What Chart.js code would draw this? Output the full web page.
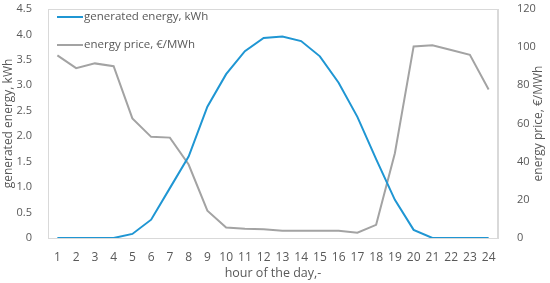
<!DOCTYPE html>
<html>
<head>
<meta charset="utf-8">
<script src="https://cdn.jsdelivr.net/npm/chart.js@4"></script>
<style>
  html, body { margin: 0; padding: 0; background: #fff; }
  #wrap { width: 550px; height: 283px; }
</style>
</head>
<body>
<div id="wrap"><canvas id="myChart"></canvas></div>
<script>
// hours on the x axis
const hours = ['1','2','3','4','5','6','7','8','9','10','11','12','13','14','15','16','17','18','19','20','21','22','23','24'];
// generated energy, kWh (left axis)
const energy = [0, 0, 0, 0, 0.08, 0.36, 0.98, 1.6, 2.58, 3.22, 3.67, 3.93, 3.96, 3.87, 3.57, 3.05, 2.38, 1.55, 0.75, 0.16, 0, 0, 0, 0];
// energy price, €/MWh (right axis)
const price = [95.7, 89, 91.5, 90, 62.7, 53, 52.6, 38.5, 14.3, 5.5, 4.9, 4.6, 3.8, 3.8, 3.8, 3.8, 2.8, 6.9, 44.4, 100.4, 101, 98.5, 96, 77.8];

const font = { family: 'Open Sans', size: 11 };
const titleFont = { family: 'Open Sans', size: 12 };
const textColor = '#595959';
const rightTitle = 'energy price, €/MWh';

// box round the plot area, legend inside it and right title read upwards (Excel style)
const plotBox = {
    id: 'plotBox',
    afterDatasetsDraw(chart) {
        const a = chart.chartArea;
        const c = chart.ctx;
        c.save();
        c.strokeStyle = '#d9d9d9';
        c.lineWidth = 1;
        c.strokeRect(a.left + 0.5, a.top + 0.5, a.right - a.left - 1, a.bottom - a.top);
        c.font = '11.5px "Open Sans"';
        c.textBaseline = 'middle';
        chart.data.datasets.forEach((ds, i) => {
            const y = a.top + 8 + i * 28;
            c.strokeStyle = ds.borderColor;
            c.lineWidth = 2;
            c.beginPath();
            c.moveTo(a.left + 9, y);
            c.lineTo(a.left + 35, y);
            c.stroke();
            c.fillStyle = textColor;
            c.fillText(ds.label, a.left + 36, y);
        });
        // right axis title
        c.translate(chart.width - 11, (a.top + a.bottom) / 2);
        c.rotate(-Math.PI / 2);
        c.font = '12px "Open Sans"';
        c.textAlign = 'center';
        c.fillText(rightTitle, 0, 0);
        c.restore();
    }
};

const ctx = document.getElementById('myChart');
new Chart(ctx, {
    type: 'line',
    data: {
        labels: hours,
        datasets: [{
            label: 'generated energy, kWh',
            data: energy,
            borderColor: '#1f96d3',
            borderWidth: 2,
            pointRadius: 0,
            tension: 0,
            yAxisID: 'y'
        },
        {
            label: 'energy price, €/MWh',
            data: price,
            borderColor: '#a3a3a3',
            borderWidth: 2,
            pointRadius: 0,
            tension: 0,
            yAxisID: 'y1'
        }]
    },
    options: {
        responsive: true,
        maintainAspectRatio: false,
        animation: false,
        layout: { padding: { top: 9, left: 0, right: 0, bottom: 0 } },
        scales: {
            x: {
                offset: true,
                grid: { display: false },
                border: { color: '#d9d9d9' },
                ticks: { color: textColor, font: { family: 'Open Sans', size: 12 }, padding: 4, maxRotation: 0, autoSkip: false },
                title: { display: true, text: 'hour of the day,-', color: textColor, font: { family: 'Open Sans', size: 12.5 }, padding: { top: 0, bottom: 2 } },
                afterFit(s) { s.height = 45; s.paddingLeft = 0; s.paddingRight = 0; }
            },
            y: {
                position: 'left',
                min: 0, max: 4.5,
                grid: { display: false },
                border: { color: '#d9d9d9' },
                ticks: {
                    stepSize: 0.5, color: textColor, font: font, padding: 8,
                    callback: v => v === 0 ? '0' : v.toFixed(1)
                },
                title: { display: true, text: 'generated energy, kWh', color: textColor, font: titleFont, padding: { top: 1, bottom: 0 } },
                afterFit(s) { s.width = 48; s.paddingTop = 0; s.paddingBottom = 0; }
            },
            y1: {
                position: 'right',
                min: 0, max: 120,
                grid: { display: false },
                border: { color: '#d9d9d9' },
                ticks: { stepSize: 20, color: textColor, font: font, padding: 11 },
                afterFit(s) { s.width = 52; s.paddingTop = 0; s.paddingBottom = 0; }
            }
        },
        plugins: {
            legend: { display: false },
            tooltip: { enabled: false }
        }
    },
    plugins: [plotBox]
});
</script>
</body>
</html>
